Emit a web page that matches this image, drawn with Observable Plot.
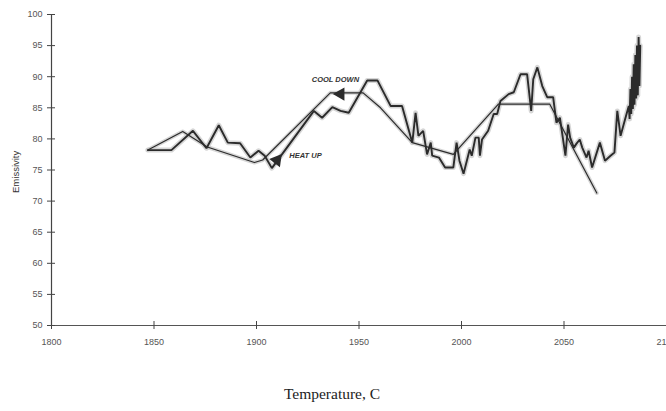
<!DOCTYPE html>
<html>
<head>
<meta charset="utf-8">
<script src="https://cdn.jsdelivr.net/npm/d3@7"></script>
<script src="https://cdn.jsdelivr.net/npm/@observablehq/plot@0.6"></script>
<style>
  html, body { margin: 0; padding: 0; background: #fff; }
  #chart svg { display: block; }
</style>
</head>
<body>
<div id="chart"></div>
<script>
// Jagged measured series: [year, emissivity]
const seriesYears = [1847, 1858.5, 1869, 1875.6, 1881.6, 1886, 1892, 1897, 1901, 1904, 1907.5,
  1928, 1932, 1937, 1941, 1945, 1954, 1959, 1965.4, 1971, 1976, 1977.6, 1979, 1981.3, 1983.2,
  1985, 1985.7, 1989, 1992, 1996, 1997.6, 1999, 2001, 2004, 2005, 2006.8, 2008.4, 2009, 2010,
  2013, 2015.7, 2017.4, 2019, 2023, 2025.5, 2028.8, 2032, 2034, 2035, 2037, 2039.4, 2041.8,
  2044.7, 2046.3, 2048, 2050.7, 2052, 2053, 2054.8, 2056, 2057.7, 2058.9, 2061, 2062, 2063.7,
  2067.5, 2070, 2072.7, 2074.6, 2076, 2077.6, 2080, 2081.6, 2082, 2082.4, 2082.8, 2083.2,
  2083.6, 2084, 2084.4, 2084.8, 2085.2, 2085.6, 2086, 2086.4, 2086.8, 2087.2];
const seriesValues = [78.2, 78.2, 81.3, 78.5, 82.2, 79.4, 79.3, 77.0, 78.1, 77.3, 75.3,
  84.5, 83.4, 85.1, 84.5, 84.2, 89.4, 89.4, 85.3, 85.3, 79.4, 84.2, 80.5, 81.3, 77.5,
  79.4, 77.3, 77.0, 75.4, 75.4, 79.4, 76.5, 74.4, 78.3, 77.3, 80.2, 80.2, 77.3, 79.9,
  81.3, 84.0, 84.0, 86.1, 87.2, 87.5, 90.4, 90.4, 84.5, 89.6, 91.5, 88.5, 86.7,
  86.7, 82.6, 83.4, 77.3, 82.3, 80.2, 78.6, 79.2, 79.9, 78.6, 77.0, 78.1, 75.4,
  79.4, 76.5, 77.3, 77.8, 84.5, 80.5, 83.4, 85.3, 83.2, 88.0, 84.0, 90.0,
  84.8, 92.0, 85.5, 93.5, 86.5, 95.0, 87.0, 96.4, 88.5, 95.0];

// Thin hand-drawn trend line
const trendYears = [1847, 1864, 1876, 1899, 1903, 1936, 1952, 1960.5, 1976, 1996, 2018, 2043, 2066];
const trendValues = [78.2, 81.2, 78.7, 76.2, 76.6, 87.4, 87.4, 85.0, 79.4, 77.5, 85.6, 85.6, 71.3];

// Axis ticks
const xTicks = [1800, 1850, 1900, 1950, 2000, 2050, 2100];
const yTicks = [50, 55, 60, 65, 70, 75, 80, 85, 90, 95, 100];

// Annotations
const noteTexts = ["HEAT UP", "COOL DOWN"];
const noteYears = [1923.9, 1938.5];
const noteValues = [77.3, 89.6];
const arrowYears = [1910, 1941];
const arrowValues = [76.6, 87.2];
const arrowAngles = [38, -90];

const series = seriesYears.map((x, i) => ({x, y: seriesValues[i]}));
const trend = trendYears.map((x, i) => ({x, y: trendValues[i]}));
const notes = noteTexts.map((t, i) => ({t, x: noteYears[i], y: noteValues[i]}));
const arrows = arrowYears.map((x, i) => ({x, y: arrowValues[i], a: arrowAngles[i]}));

const ink = "#2b2b2b";
const halo = "#c4c4c4";

const chart = Plot.plot({
  width: 666,
  height: 411,
  marginLeft: 51,
  marginRight: 0,
  marginTop: 14,
  marginBottom: 86,
  style: {background: "#fff", fontFamily: "Liberation Sans, Arial, sans-serif"},
  x: {domain: [1800, 2100]},
  y: {domain: [50, 100]},
  marks: [
    // scan halo
    Plot.line(trend, {x: "x", y: "y", stroke: halo, strokeWidth: 4, strokeOpacity: 0.7}),
    Plot.line(series, {x: "x", y: "y", stroke: halo, strokeWidth: 5, strokeOpacity: 0.7}),
    Plot.line(trend, {x: "x", y: "y", stroke: ink, strokeWidth: 1.2}),
    Plot.line(series, {x: "x", y: "y", stroke: ink, strokeWidth: 1.9, strokeLinejoin: "miter"}),
    Plot.dot(arrows, {x: "x", y: "y", symbol: "triangle", r: 5, fill: ink, stroke: "none", rotate: "a"}),
    Plot.text(notes, {x: "x", y: "y", text: "t", fontSize: 7.5, fontStyle: "italic", fontWeight: "bold",
      fill: "#333", letterSpacing: "0.6px"}),
    // axes
    Plot.ruleY([50], {stroke: "#555", strokeWidth: 1.2}),
    Plot.ruleX([1800], {stroke: "#444", strokeWidth: 1.2}),
    Plot.axisY({ticks: yTicks, tickSize: 8, dx: 4, tickPadding: 5, label: null,
      fontSize: 9, color: "#555", stroke: "#444"}),
    Plot.axisX({ticks: xTicks, tickSize: 8, dy: -4, tickPadding: 9, label: null,
      tickFormat: d => String(d), fontSize: 9, color: "#555", stroke: "#444"}),
    Plot.text(["Emissivity"], {x: 1800, y: 74.7, dx: -36, rotate: -90, fontSize: 9.5, fill: "#333"}),
    Plot.text(["Temperature, C"], {frameAnchor: "bottom", dx: -27, dy: 73, fontSize: 15.5,
      fontFamily: "Liberation Serif, Times New Roman, serif", fill: "#222"})
  ]
});
document.getElementById("chart").appendChild(chart);
</script>
</body>
</html>
